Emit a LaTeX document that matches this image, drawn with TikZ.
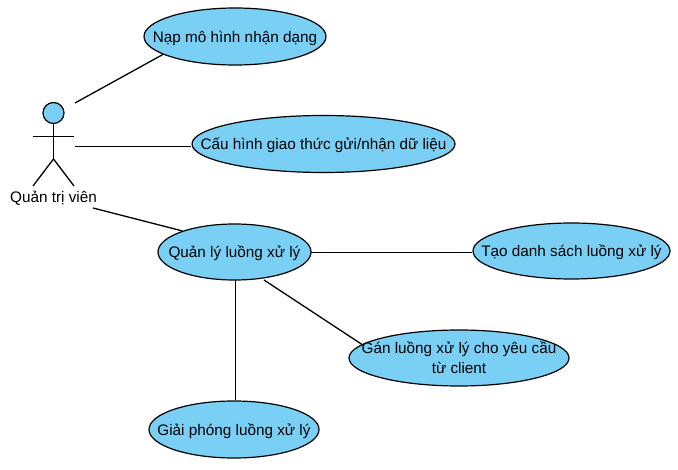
\documentclass[tikz,border=0pt]{standalone}
\usepackage{fontspec}
\setmainfont{Liberation Sans}
\usetikzlibrary{shapes.geometric}
\definecolor{ucfill}{RGB}{122,207,245}
\newcommand{\uct}[1]{\makebox[0pt]{\raisebox{-5.3pt}[0pt][0pt]{\begin{tabular}{@{}c@{}}#1\end{tabular}}}}
\tikzset{
  usecase/.style={ellipse,draw=black,line width=1.2pt,fill=ucfill,inner sep=0pt,font=\fontsize{15.3}{19.5}\selectfont},
  link/.style={draw=black,line width=1.3pt},
  stick/.style={draw=black,line width=1.3pt},
  actorhead/.style={circle,draw=black,line width=1.2pt,fill=ucfill,inner sep=0pt,minimum size=21pt},
  actorlabel/.style={inner sep=0pt,font=\fontsize{15.3}{18}\selectfont}
}
\begin{document}
\begin{tikzpicture}[x=1pt,y=-1pt]
\useasboundingbox (0,0) rectangle (678,470);
\coordinate (a1) at (75,103);
\coordinate (a2) at (75,146.5);
\coordinate (a3) at (93,208);
\coordinate (e3b) at (264,280);
\coordinate (hip) at (53.5,159);
\coordinate (armL) at (33,136.5);
\coordinate (armR) at (74,136.5);
\coordinate (legL) at (33,186);
\coordinate (legR) at (74,186);
\coordinate (e3r) at (311,252.5);
\coordinate (e3d) at (235.5,280);
\node[usecase,minimum width=182pt,minimum height=57pt] (e1) at (235,36.5) {\uct{Nạp mô hình nhận dạng}};
\node[usecase,minimum width=263pt,minimum height=57pt] (e2) at (323.5,144) {\uct{Cấu hình giao thức gửi/nhận dữ liệu}};
\node[usecase,minimum width=153pt,minimum height=56pt] (e3) at (234.5,252) {\uct{Quản lý luồng xử lý}};
\node[usecase,minimum width=197pt,minimum height=56pt] (e4) at (571.5,251) {\uct{Tạo danh sách luồng xử lý}};
\node[usecase,minimum width=220pt,minimum height=56pt] (e5) at (459,358) {\uct{Gán luồng xử lý cho yêu cầu\\từ client}};
\node[usecase,minimum width=170pt,minimum height=57pt] (e6) at (234,429.5) {\uct{Giải phóng luồng xử lý}};
\node[actorhead] (head) at (53.5,113) {};
\node[actorlabel] (lbl) at (53.5,198) {Quản trị viên};
\draw[stick] (head) -- (hip);
\draw[stick] (armL) -- (armR);
\draw[stick] (legL) -- (hip) -- (legR);
\draw[link] (a1) -- (e1.194);
\draw[link] (a2) -- (e2.west |- a2);
\draw[link] (a3) -- (e3.158);
\draw[link] (e3r) -- (e3r -| e4.west);
\draw[link] (e3b) -- (e5.172);
\draw[link] (e3d) -- (e3d |- e6.north);
\end{tikzpicture}
\end{document}
